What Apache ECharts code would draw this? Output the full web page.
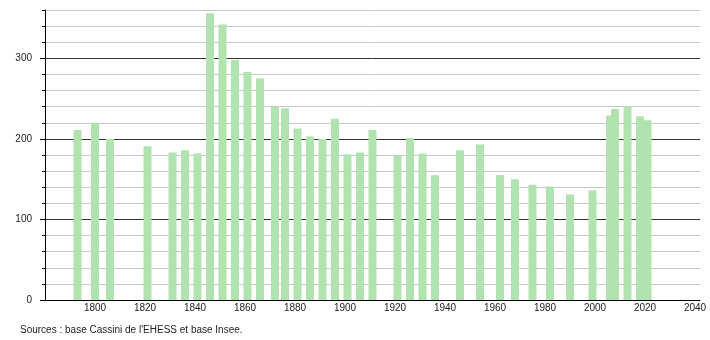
<!DOCTYPE html>
<html>
<head>
<meta charset="utf-8">
<script src="https://cdn.jsdelivr.net/npm/echarts@6/dist/echarts.min.js"></script>
<style>html,body{margin:0;padding:0;background:#fff}#c{width:710px;height:340px}</style>
</head>
<body>
<div id="c"></div>
<script>
const years = [1793, 1800, 1806, 1821, 1831, 1836, 1841, 1846, 1851, 1856, 1861, 1866, 1872, 1876, 1881, 1886, 1891, 1896, 1901, 1906, 1911, 1921, 1926, 1931, 1936, 1946, 1954, 1962, 1968, 1975, 1982, 1990, 1999, 2006, 2008, 2013, 2018, 2021];
const population = [211, 220, 200, 191, 183, 186, 182, 356, 342, 298, 283, 275, 240, 238, 213, 203, 200, 225, 181, 183, 211, 179, 201, 182, 155, 186, 193, 155, 150, 143, 141, 131, 136, 229, 237, 240, 228, 223];
const xTickLabels = [1800, 1820, 1840, 1860, 1880, 1900, 1920, 1940, 1960, 1980, 2000, 2020, 2040];
const yTickLabels = [0, 100, 200, 300];
const sourceText = "Sources : base Cassini de l'EHESS et base Insee.";

const font = 'Liberation Sans, Arial, sans-serif';
const chart = echarts.init(document.getElementById('c'), null, {renderer: 'canvas'});
chart.setOption({
  animation: false,
  backgroundColor: '#fff',
  title: {
    text: sourceText, left: 20, top: 325, padding: 0,
    textStyle: {fontSize: 10, fontWeight: 'normal', color: '#222', fontFamily: font}
  },
  grid: {left: 45, right: 10, top: 10, bottom: 40},
  xAxis: {
    type: 'value', min: 1780, max: 2042, interval: 20,
    axisLine: {show: true, lineStyle: {color: '#000', width: 1}},
    axisTick: {show: false},
    splitLine: {show: false},
    axisLabel: {
      margin: 3, fontSize: 10, color: '#222', fontFamily: font,
      customValues: xTickLabels,
      formatter: v => (xTickLabels.indexOf(v) >= 0 ? String(v) : '')
    }
  },
  yAxis: [{
    type: 'value', min: 0, max: 360, interval: 20,
    axisLine: {show: true, lineStyle: {color: '#000', width: 1}},
    axisTick: {show: true, length: 3, lineStyle: {color: '#000'}},
    axisLabel: {show: false},
    splitLine: {show: true, lineStyle: {color: ['#333', '#c8c8c8', '#c8c8c8', '#c8c8c8', '#c8c8c8'], width: 1}}
  }, {
    type: 'value', min: 0, max: 360, interval: 100, position: 'left',
    axisLine: {show: false},
    axisTick: {show: true, length: 5, lineStyle: {color: '#000'}, customValues: yTickLabels},
    axisLabel: {
      margin: 13, fontSize: 10, color: '#222', fontFamily: font,
      customValues: yTickLabels,
      formatter: v => (yTickLabels.indexOf(v) >= 0 ? String(v) : '')
    },
    splitLine: {show: false}
  }],
  series: [{
    type: 'bar', yAxisIndex: 0, barWidth: 8,
    itemStyle: {color: '#b0e3b0'},
    data: years.map((y, i) => [y, population[i]])
  }]
});
</script>
</body>
</html>
